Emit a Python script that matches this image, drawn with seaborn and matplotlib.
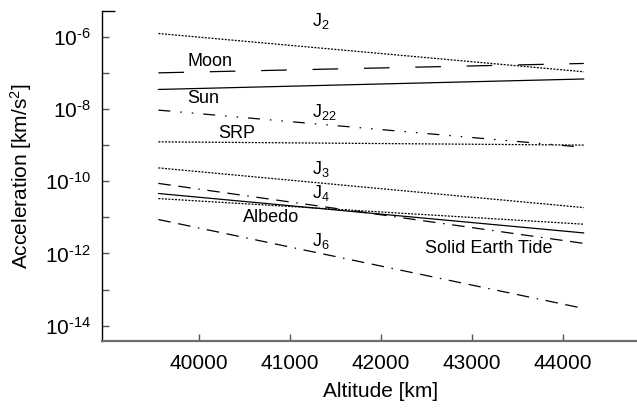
import math
import pandas as pd
import seaborn as sns
import matplotlib.pyplot as plt
from matplotlib.ticker import FixedLocator, FuncFormatter, NullFormatter

# ---- data (two end points per force, km and km/s^2) ----
altitude = [39550, 44230]

forces = ['J2', 'Moon', 'Sun', 'J22', 'SRP', 'J3', 'J4',
          'Solid Earth Tide', 'Albedo', 'J6']

acc_j2 = [1.23e-6, 1.07e-7]
acc_moon = [1.00e-7, 1.82e-7]
acc_sun = [3.47e-8, 6.76e-8]
acc_j22 = [9.3e-9, 8.7e-10]
acc_srp = [1.23e-9, 1.00e-9]
acc_j3 = [2.34e-10, 1.86e-11]
acc_j4 = [8.7e-11, 1.9e-12]
acc_set = [4.57e-11, 3.7e-12]
acc_albedo = [3.31e-11, 6.46e-12]
acc_j6 = [8.7e-12, 3.0e-14]

all_acc = [acc_j2, acc_moon, acc_sun, acc_j22, acc_srp, acc_j3, acc_j4,
           acc_set, acc_albedo, acc_j6]

decades = [-14, -13, -12, -11, -10, -9, -8, -7, -6]

# ---- long form table for seaborn ----
rows = []
for name, vals in zip(forces, all_acc):
    for a, v in zip(altitude, vals):
        rows.append({'altitude': a, 'acc': v, 'force': name})
df = pd.DataFrame(rows)

dotted = (1.4, 1.0)
dash_map = {
    'J2': dotted,
    'Moon': (18.5, 18.5),
    'Sun': '',
    'J22': (8.6, 7.2, 1.1, 7.2, 1.1, 7.2),
    'SRP': dotted,
    'J3': dotted,
    'J4': (9.0, 5.5, 9.0, 5.5, 1.1, 5.5),
    'Solid Earth Tide': '',
    'Albedo': dotted,
    'J6': (9.0, 5.5, 9.0, 5.5, 1.1, 5.5),
}

# ---- style ----
sns.set_style('ticks')
plt.rcParams['font.family'] = ['Liberation Sans', 'DejaVu Sans']
plt.rcParams['mathtext.fontset'] = 'custom'
plt.rcParams['mathtext.rm'] = 'Liberation Sans'
plt.rcParams['mathtext.it'] = 'Liberation Sans:italic'
plt.rcParams['mathtext.bf'] = 'Liberation Sans:bold'
plt.rcParams['lines.scale_dashes'] = False
plt.rcParams['text.color'] = 'black'
plt.rcParams['axes.labelcolor'] = 'black'

fig = plt.figure(figsize=(6.37, 4.12), dpi=100)
ax = fig.add_axes([0.1606, 0.1723, 0.8394, 0.8022])

sns.lineplot(data=df, x='altitude', y='acc', style='force', dashes=dash_map,
             color='black', linewidth=0.9, legend=False, ax=ax)

ax.set_yscale('log')
ytop = 5.32e-6
ax.set_ylim(3.77e-15, ytop)
ax.set_xlim(38933, 44815)


# y ticks: every decade, label every second one
def dec_label(v, pos):
    e = int(round(math.log10(v)))
    return r'$10^{\text{%d}}$' % e if e % 2 == 0 else ''


ax.yaxis.set_major_locator(FixedLocator([10.0 ** d for d in decades]))
ax.yaxis.set_major_formatter(FuncFormatter(dec_label))
ax.yaxis.set_minor_locator(FixedLocator([ytop * 0.999]))
ax.yaxis.set_minor_formatter(NullFormatter())

ax.set_xticks([40000, 41000, 42000, 43000, 44000])
ax.xaxis.set_minor_locator(FixedLocator([]))

ax.tick_params(axis='both', which='major', direction='in', length=5,
               width=1, labelsize=15, colors='#555555', labelcolor='black')
ax.tick_params(axis='x', pad=9)
ax.tick_params(axis='y', pad=8)
ax.tick_params(axis='y', which='minor', direction='in', length=9,
               width=1, color='black')

sns.despine(ax=ax)
ax.spines['left'].set_color('black')
ax.spines['left'].set_linewidth(1.0)
ax.spines['bottom'].set_color('#6e6e6e')
ax.spines['bottom'].set_linewidth(1.6)

ax.set_xlabel('Altitude [km]', fontsize=15)
ax.set_ylabel(r'Acceleration [km/s$^2$]', fontsize=15)
ax.xaxis.set_label_coords(0.52, -0.125)
ax.yaxis.set_label_coords(-0.128, 0.5)

# ---- curve labels ----
labels = [
    (r'J$_2$', 41238, 2.0e-6),
    ('Moon', 39866, 1.58e-7),
    ('Sun', 39866, 1.51e-8),
    (r'J$_{22}$', 41237, 5.9e-9),
    ('SRP', 40209, 1.55e-9),
    (r'J$_3$', 41240, 1.55e-10),
    (r'J$_4$', 41240, 3.4e-11),
    ('Albedo', 40484, 7.6e-12),
    (r'J$_6$', 41240, 1.58e-12),
    ('Solid Earth Tide', 42483, 1.0e-12),
]
for txt, x, y in labels:
    ax.text(x, y, txt, fontsize=13, ha='left', va='baseline', color='black')

plt.savefig('out.png', dpi=100)
